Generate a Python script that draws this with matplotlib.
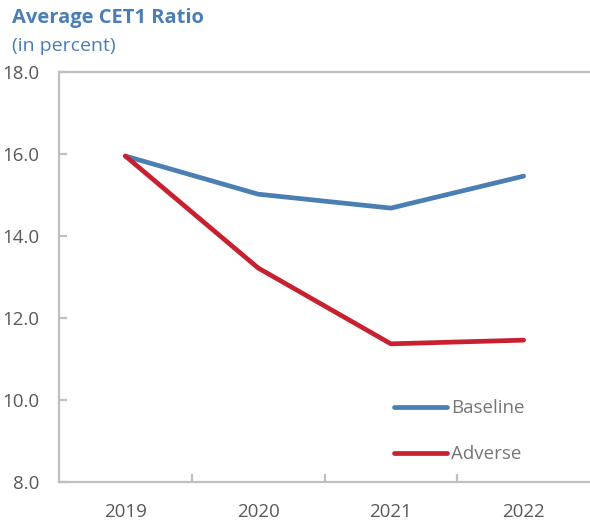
import matplotlib.pyplot as plt

# data
years = ["2019", "2020", "2021", "2022"]
baseline = [15.95, 15.02, 14.68, 15.46]
adverse = [15.95, 13.22, 11.37, 11.46]
yticks = [8.0, 10.0, 12.0, 14.0, 16.0, 18.0]

plt.rcParams['font.family'] = ['Open Sans', 'DejaVu Sans']

fig = plt.figure(figsize=(5.9, 5.27), dpi=100)
ax = fig.add_axes([0.1, 0.0854, 0.9, 0.778])

x = range(len(years))
ax.plot(x, baseline, color="#4A7FB3", lw=3.4, solid_capstyle="round", label="Baseline")
ax.plot(x, adverse, color="#C8202F", lw=3.4, solid_capstyle="round", label="Adverse")

ax.set_xlim(-0.5, 3.5)
ax.set_ylim(8, 18)
ax.set_yticks(yticks)
ax.set_yticklabels(["%.1f" % v for v in yticks])
ax.set_xticks(list(x))
ax.set_xticklabels(years)
ax.set_xticks([0.5, 1.5, 2.5], minor=True)

grey = "#BFBFBF"
for s in ["left", "top", "bottom"]:
    ax.spines[s].set_color(grey)
    ax.spines[s].set_linewidth(1.6)
ax.spines["right"].set_visible(False)

ax.tick_params(axis="y", direction="in", length=6, width=1.6, color=grey,
               labelsize=13.5, labelcolor="#595959", pad=14)
ax.tick_params(axis="x", which="major", length=0, labelsize=13.5,
               labelcolor="#595959", pad=15)
ax.tick_params(axis="x", which="minor", direction="in", length=6, width=1.6, color=grey)

leg = ax.legend(loc="lower left", bbox_to_anchor=(0.6, 0.004), frameon=False,
                handlelength=2.8, handletextpad=0.2, labelspacing=1.5,
                fontsize=13.5, labelcolor="#767676")

fig.text(0.02, 0.966, "Average CET1 Ratio", fontsize=14.5, fontweight="bold",
         color="#4A7EB5", va="center", ha="left")
fig.text(0.02, 0.913, "(in percent)", fontsize=14, color="#4A7EB5",
         va="center", ha="left")

fig.savefig("out.png", dpi=100)
